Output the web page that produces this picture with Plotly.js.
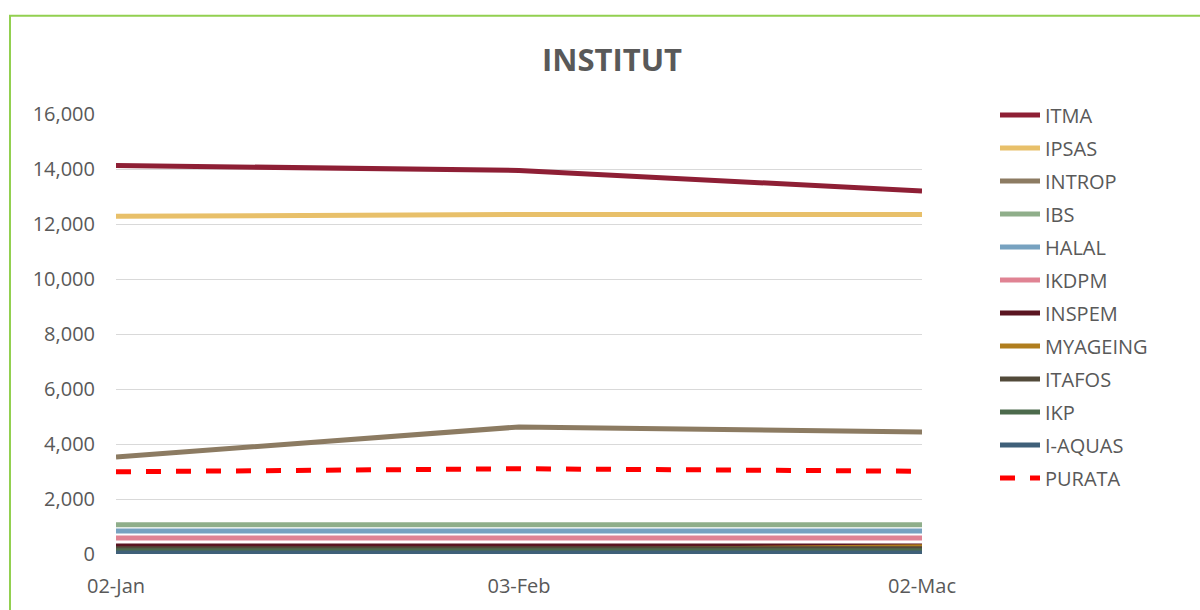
<!DOCTYPE html>
<html>
<head>
<meta charset="utf-8">
<script src="https://cdn.plot.ly/plotly-3.0.1.min.js"></script>
<style>html,body{margin:0;padding:0;background:#fff;}#chart{width:1200px;height:610px;}</style>
</head>
<body>
<div id="chart"></div>
<script>
const categories = ['02-Jan', '03-Feb', '02-Mac'];
const seriesNames = ['ITMA','IPSAS','INTROP','IBS','HALAL','IKDPM','INSPEM','MYAGEING','ITAFOS','IKP','I-AQUAS','PURATA'];
const ITMA     = [14130, 13950, 13200];
const IPSAS    = [12280, 12350, 12350];
const INTROP   = [3530, 4620, 4440];
const IBS      = [1065, 1065, 1065];
const HALAL    = [835, 835, 835];
const IKDPM    = [580, 580, 580];
const INSPEM   = [290, 290, 290];
const MYAGEING = [130, 130, 260];
const ITAFOS   = [190, 190, 190];
const IKP      = [120, 120, 120];
const I_AQUAS  = [40, 40, 40];
const PURATA   = [2990, 3100, 3010];
const seriesValues = [ITMA, IPSAS, INTROP, IBS, HALAL, IKDPM, INSPEM, MYAGEING, ITAFOS, IKP, I_AQUAS, PURATA];
const seriesColors = ['#8E1F35','#E8C06A','#8C7B62','#8FAE8A','#77A2C0','#E08393','#5A1521','#B07E1E','#524A3A','#4C6A4C','#3F6079','#FF0000'];

const traces = seriesNames.map((n, i) => ({
  type: 'scatter', mode: 'lines', name: n,
  x: categories, y: seriesValues[i],
  legendgroup: 'g' + i,
  line: {color: seriesColors[i], width: 5, dash: n === 'PURATA' ? 'dash' : 'solid'},
  hoverinfo: 'x+y+name'
}));

const plotL = 116, plotR = 922, plotT = 113.5, plotB = 554.3;
const W = 1200, H = 610;
const pw = plotR - plotL, ph = plotB - plotT;
const px2x = p => (p - plotL) / pw;
const px2y = p => (plotB - p) / ph;

const font = 'Open Sans, Liberation Sans, sans-serif';
const layout = {
  width: W, height: H,
  margin: {l: plotL, r: W - plotR, t: plotT, b: H - plotB, pad: 0},
  paper_bgcolor: '#fff', plot_bgcolor: '#fff',
  title: {text: '<b>INSTITUT</b>', x: 612 / W, xref: 'container', xanchor: 'center', y: 1 - 60 / H, yref: 'container', yanchor: 'middle', font: {family: font, size: 31, color: '#595959'}},
  font: {family: font, size: 20, color: '#595959'},
  xaxis: {type: 'category', range: [0, 2], showgrid: false, zeroline: false, showline: false, ticks: '', ticklabelstandoff: 18, tickfont: {family: font, size: 20, color: '#595959'}},
  yaxis: {range: [0, 16000], dtick: 2000, tickformat: ',d', showgrid: true, gridcolor: '#D9D9D9', gridwidth: 1, zeroline: false, showline: false, ticks: '', ticklabelstandoff: 20, tickfont: {family: font, size: 20, color: '#595959'}},
  legend: {x: px2x(995), xanchor: 'left', y: px2y(95), yanchor: 'top', traceorder: 'grouped', tracegroupgap: 4, maxheight: 600, font: {family: font, size: 20, color: '#595959'}, itemwidth: 40, bgcolor: 'rgba(0,0,0,0)'},
  shapes: [{type: 'rect', xref: 'paper', yref: 'paper', x0: px2x(10), x1: px2x(1215), y0: px2y(640), y1: px2y(15), line: {color: '#92D050', width: 2}, fillcolor: 'rgba(0,0,0,0)', layer: 'below'}],
  showlegend: true
};
Plotly.newPlot('chart', traces, layout, {displayModeBar: false, staticPlot: true});
</script>
</body>
</html>
